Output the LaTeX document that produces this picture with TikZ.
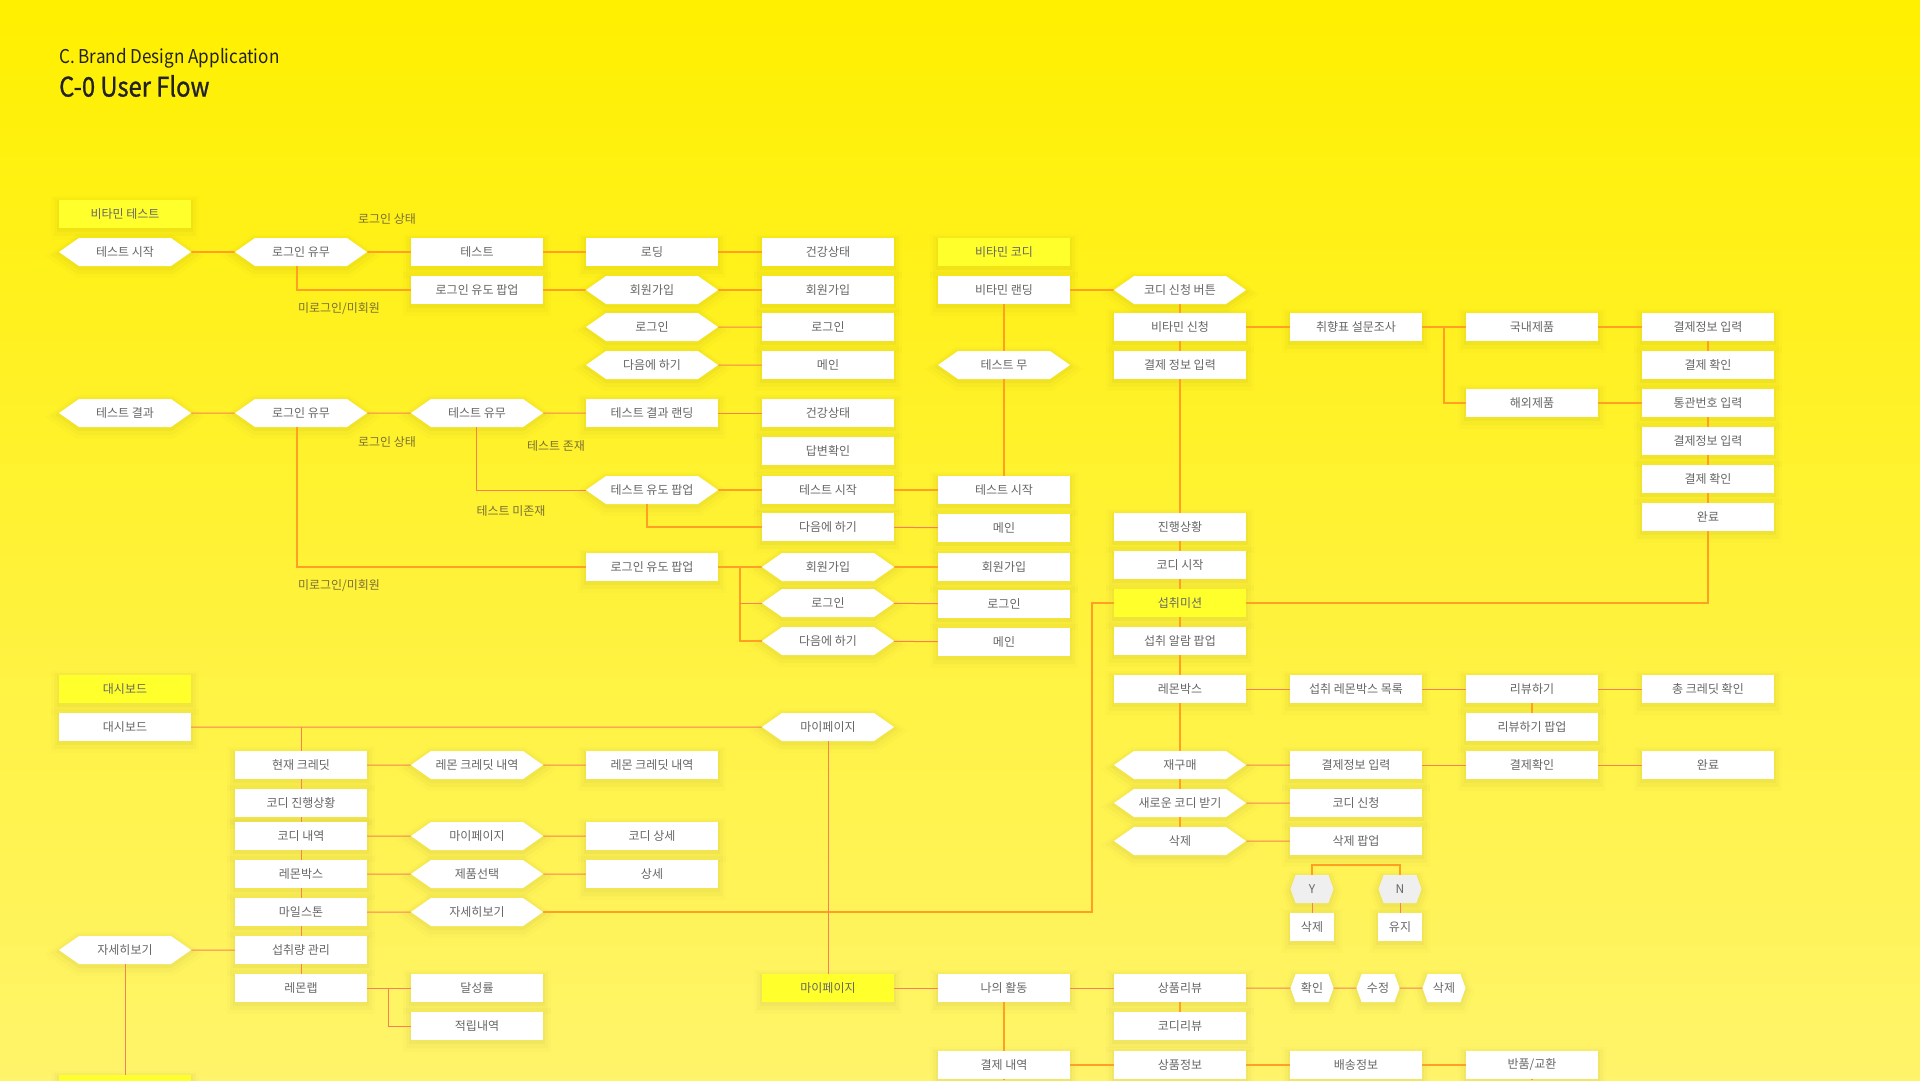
\documentclass[tikz,border=0pt]{standalone}
\usepackage{fontspec}
\setmainfont{Noto Sans CJK KR}
\newfontfamily\ttlfont[FakeBold=1.0]{Noto Sans CJK KR}
\usetikzlibrary{shapes.symbols,shadows}
\definecolor{bgtop}{HTML}{FFF000}
\definecolor{bgbot}{HTML}{FFF46A}
\definecolor{ylw}{HTML}{FFFF2C}
\definecolor{ntext}{HTML}{666666}
\definecolor{labgrey}{RGB}{122,112,52}
\definecolor{ttl}{HTML}{222222}
\definecolor{orw}{RGB}{255,160,36}
\definecolor{crw}{RGB}{248,128,88}
\definecolor{greyhex}{HTML}{EFEFEF}
\newcommand\nfnt{\fontsize{12}{14}\selectfont}
\newcommand\lfnt{\fontsize{12}{14}\selectfont}
\begin{document}
\begin{tikzpicture}[x=1pt,y=-1pt,
  halo/.style={
    general shadow={draw=black, fill=none, line width=16pt, opacity=0.012, shadow yshift=-4pt},
    general shadow={draw=black, fill=none, line width=10pt, opacity=0.018, shadow yshift=-3pt},
    general shadow={draw=black, fill=none, line width=4pt, opacity=0.025, shadow yshift=-2pt}},
  base/.style={inner sep=0pt, minimum height=28pt, text=ntext, font=\nfnt, halo},
  wbox/.style={base, rectangle, fill=white, minimum width=132pt},
  ybx/.style={base, rectangle, fill=ylw, minimum width=132pt},
  hexn/.style={base, signal, signal to=east and west, signal pointer angle=70, fill=white, minimum width=132pt},
  shex/.style={base, signal, signal to=east and west, signal pointer angle=140, fill=white, minimum width=43pt},
  sbox/.style={base, rectangle, fill=white, minimum width=44pt},
  lab/.style={text=labgrey, font=\lfnt, inner sep=0pt},
  ow/.style={draw=orw, line width=1.6pt},
  cw/.style={draw=crw, line width=1pt}]
\useasboundingbox (0,0) rectangle (1920,1080);
\shade[top color=bgtop, bottom color=bgbot] (0,0) rectangle (1920,1080);

% titles
\node[anchor=west, inner sep=0pt, text=ttl, font=\fontsize{19}{22}\selectfont] (t1x) at (59,58) {\scalebox{0.9}[1]{C. Brand Design Application}};
\node[anchor=west, inner sep=0pt, text=ttl, font=\ttlfont\fontsize{27}{30}\selectfont] (t2x) at (59,86) {\scalebox{0.88}[1]{C-0 User Flow}};

% ---------- top section ----------
\node[ybx]  (vt)   at (125,214) {비타민 테스트};
\node[hexn] (ts1)  at (125,252) {테스트 시작};
\node[hexn] (lu1)  at (301,252) {로그인 유무};
\node[wbox] (t1)   at (477,252) {테스트};
\node[wbox] (ld)   at (652,252) {로딩};
\node[wbox] (hs1)  at (828,252) {건강상태};
\node[wbox] (lp1)  at (477,290) {로그인 유도 팝업};
\node[hexn] (sj1)  at (652,290) {회원가입};
\node[wbox] (sj1b) at (828,290) {회원가입};
\node[hexn] (li1)  at (652,327) {로그인};
\node[wbox] (li1b) at (828,327) {로그인};
\node[hexn] (nx1)  at (652,365) {다음에 하기};
\node[wbox] (mn1)  at (828,365) {메인};

\node[hexn] (tr)   at (125,413) {테스트 결과};
\node[hexn] (lu2)  at (301,413) {로그인 유무};
\node[hexn] (tu)   at (477,413) {테스트 유무};
\node[wbox] (trl)  at (652,413) {테스트 결과 랜딩};
\node[wbox] (hs2)  at (828,413) {건강상태};
\node[wbox] (ans)  at (828,451) {답변확인};
\node[hexn] (tp)   at (652,490) {테스트 유도 팝업};
\node[wbox] (ts2)  at (828,490) {테스트 시작};
\node[wbox] (nx2)  at (828,527) {다음에 하기};
\node[wbox] (lp2)  at (652,567) {로그인 유도 팝업};
\node[hexn] (sj2)  at (828,567) {회원가입};
\node[hexn] (li2)  at (828,603) {로그인};
\node[hexn] (nx3)  at (828,641) {다음에 하기};

\node[ybx]  (vc)   at (1004,252) {비타민 코디};
\node[wbox] (vl)   at (1004,290) {비타민 랜딩};
\node[hexn] (tm)   at (1004,365) {테스트 무};
\node[wbox] (ts3)  at (1004,490) {테스트 시작};
\node[wbox] (mn2)  at (1004,528) {메인};
\node[wbox] (sj2b) at (1004,567) {회원가입};
\node[wbox] (li2b) at (1004,604) {로그인};
\node[wbox] (mn3)  at (1004,642) {메인};

\node[hexn] (cb)   at (1180,290) {코디 신청 버튼};
\node[wbox] (vs)   at (1180,327) {비타민 신청};
\node[wbox] (pi1)  at (1180,365) {결제 정보 입력};
\node[wbox] (pr)   at (1180,527) {진행상황};
\node[wbox] (cs)   at (1180,565) {코디 시작};
\node[ybx]  (sm)   at (1180,603) {섭취미션};
\node[wbox] (sa)   at (1180,641) {섭취 알람 팝업};
\node[wbox] (lb1)  at (1180,689) {레몬박스};
\node[hexn] (rb)   at (1180,765) {재구매};
\node[hexn] (nc)   at (1180,803) {새로운 코디 받기};
\node[hexn] (dl)   at (1180,841) {삭제};

\node[wbox] (sv)   at (1356,327) {취향표 설문조사};
\node[wbox] (dom)  at (1532,327) {국내제품};
\node[wbox] (ovs)  at (1532,403) {해외제품};
\node[wbox] (pa1)  at (1708,327) {결제정보 입력};
\node[wbox] (pc1)  at (1708,365) {결제 확인};
\node[wbox] (cc)   at (1708,403) {통관번호 입력};
\node[wbox] (pa2)  at (1708,441) {결제정보 입력};
\node[wbox] (pc2)  at (1708,479) {결제 확인};
\node[wbox] (dn1)  at (1708,517) {완료};

\node[wbox] (lbl)  at (1356,689) {섭취 레몬박스 목록};
\node[wbox] (rv)   at (1532,689) {리뷰하기};
\node[wbox] (tcr)  at (1708,689) {총 크레딧 확인};
\node[wbox] (rvp)  at (1532,727) {리뷰하기 팝업};
\node[wbox] (pa3)  at (1356,765) {결제정보 입력};
\node[wbox] (pc3)  at (1532,765) {결제확인};
\node[wbox] (dn2)  at (1708,765) {완료};
\node[wbox] (ca)   at (1356,803) {코디 신청};
\node[wbox] (dp)   at (1356,841) {삭제 팝업};
\node[shex, fill=greyhex] (yy) at (1312,889) {Y};
\node[shex, fill=greyhex] (nn) at (1400,889) {N};
\node[sbox] (dl2)  at (1312,927) {삭제};
\node[sbox] (kp)   at (1400,927) {유지};

% ---------- lower section ----------
\node[ybx]  (db1)  at (125,689) {대시보드};
\node[wbox] (db2)  at (125,727) {대시보드};
\node[hexn] (mp1)  at (828,727) {마이페이지};
\node[wbox] (cr)   at (301,765) {현재 크레딧};
\node[hexn] (lch)  at (477,765) {레몬 크레딧 내역};
\node[wbox] (lcb)  at (652,765) {레몬 크레딧 내역};
\node[wbox] (cpr)  at (301,803) {코디 진행상황};
\node[wbox] (chist) at (301,836) {코디 내역};
\node[hexn] (mp2)  at (477,836) {마이페이지};
\node[wbox] (cdet) at (652,836) {코디 상세};
\node[wbox] (lb2)  at (301,874) {레몬박스};
\node[hexn] (ps)   at (477,874) {제품선택};
\node[wbox] (det)  at (652,874) {상세};
\node[wbox] (ms)   at (301,912) {마일스톤};
\node[hexn] (js3)  at (477,912) {자세히보기};
\node[wbox] (im)   at (301,950) {섭취량 관리};
\node[hexn] (js1)  at (125,950) {자세히보기};
\node[wbox] (ll)   at (301,988) {레몬랩};
\node[wbox] (ach)  at (477,988) {달성률};
\node[wbox] (acc)  at (477,1026) {적립내역};
\node[ybx]  (mp3)  at (828,988) {마이페이지};
\node[wbox] (ma)   at (1004,988) {나의 활동};
\node[wbox] (prv)  at (1180,988) {상품리뷰};
\node[shex] (ok)   at (1312,988) {확인};
\node[shex] (ed)   at (1378,988) {수정};
\node[shex] (de)   at (1444,988) {삭제};
\node[wbox] (crv)  at (1180,1026) {코디리뷰};
\node[wbox] (ph)   at (1004,1065) {결제 내역};
\node[wbox] (pin)  at (1180,1065) {상품정보};
\node[wbox] (si)   at (1356,1065) {배송정보};
\node[wbox] (rx)   at (1532,1065) {반품/교환};
\node[ybx]  (bot)  at (125,1089) {};

% labels
\node[lab] (la1) at (387,219) {로그인 상태};
\node[lab] (la2) at (339,309) {미로그인/미회원};
\node[lab] (la3) at (387,442) {로그인 상태};
\node[lab] (la4) at (556,446) {테스트 존재};
\node[lab] (la5) at (511,511) {테스트 미존재};
\node[lab] (la6) at (339,586) {미로그인/미회원};

% helper coordinates
\coordinate (br1) at (740,567);
\coordinate (br2) at (1444,327);
\coordinate (k1)  at (1092,912);
\coordinate (br3) at (301,727);
\coordinate (br4) at (388,988);
\coordinate (ybar) at (1356,865);
\coordinate (e1) at (1004,1080);
\coordinate (e2) at (1532,1080);

% ---------- connectors: top ----------
\draw[ow] (ts1) -- (lu1);
\draw[ow] (lu1) -- (t1);
\draw[ow] (t1) -- (ld);
\draw[ow] (ld) -- (hs1);
\draw[ow] ([xshift=-4pt]lu1.south) |- (lp1.west);
\draw[ow] (lp1) -- (sj1);
\draw[ow] (sj1) -- (sj1b);
\draw[cw] (li1) -- (li1b);
\draw[cw] (nx1) -- (mn1);
\draw[cw] (tr) -- (lu2);
\draw[cw] (lu2) -- (tu);
\draw[cw] (tu) -- (trl);
\draw[cw] (trl) -- (hs2);
\draw[cw] ([xshift=-1pt]tu.south) |- (tp.west);
\draw[ow] (tp) -- (ts2);
\draw[ow] (ts2) -- (ts3);
\draw[ow] ([xshift=-5pt]tp.south) |- (nx2.west);
\draw[cw] (nx2) -- (mn2);
\draw[ow] ([xshift=-4pt]lu2.south) |- (lp2.west);
\draw[ow] (lp2) -- (sj2);
\draw[ow] (br1) |- (nx3.west);
\draw[cw] (br1 |- li2) -- (li2.west);
\draw[ow] (sj2) -- (sj2b);
\draw[cw] (li2) -- (li2b);
\draw[cw] (nx3) -- (mn3);

\draw[ow] (vl) -- (cb);
\draw[ow] (vl.south) -- (tm.north);
\draw[ow] (tm.south) -- (ts3.north);
\draw[ow] (cb.south) -- (vs.north);
\draw[ow] (vs.south) -- (pi1.north);
\draw[ow] (pi1.south) -- (pr.north);
\draw[ow] (pr.south) -- (cs.north);
\draw[ow] (cs.south) -- (sm.north);
\draw[ow] (sm.south) -- (sa.north);
\draw[ow] (sa.south) -- (lb1.north);
\draw[ow] (lb1.south) -- (rb.north);
\draw[ow] (rb.south) -- (nc.north);
\draw[ow] (nc.south) -- (dl.north);
\draw[ow] (vs) -- (sv);
\draw[ow] (sv) -- (dom);
\draw[ow] (br2) |- (ovs.west);
\draw[ow] (dom) -- (pa1);
\draw[ow] (ovs) -- (cc);
\draw[ow] (pa1.south) -- (pc1.north);
\draw[ow] (cc.south) -- (pa2.north);
\draw[ow] (pa2.south) -- (pc2.north);
\draw[ow] (pc2.south) -- (dn1.north);
\draw[ow] (dn1.south) |- (sm.east);
\draw[ow] (sm.west) -| (k1) -- (js3.east);

% ---------- connectors: lower ----------
\draw[cw] (db2) -- (mp1);
\draw[cw] (br3) -- (cr.north);
\draw[cw] (cr.south) -- (cpr.north);
\draw[cw] (cpr.south) -- (chist.north);
\draw[cw] (chist.south) -- (lb2.north);
\draw[cw] (lb2.south) -- (ms.north);
\draw[cw] (ms.south) -- (im.north);
\draw[cw] (im.south) -- (ll.north);
\draw[cw] (cr) -- (lch);
\draw[cw] (lch) -- (lcb);
\draw[cw] (chist) -- (mp2);
\draw[cw] (mp2) -- (cdet);
\draw[cw] (lb2) -- (ps);
\draw[cw] (ps) -- (det);
\draw[cw] (ms) -- (js3);
\draw[cw] (im) -- (js1);
\draw[cw] (js1.south) -- (bot.north);
\draw[cw] (ll) -- (ach);
\draw[cw] (br4) |- (acc.west);
\draw[cw] (mp1.south) -- (mp3.north);
\draw[cw] (mp3) -- (ma);
\draw[cw] (ma) -- (prv);
\draw[cw] (prv) -- (ok);
\draw[cw] (ok) -- (ed);
\draw[cw] (ed) -- (de);
\draw[ow] (ma.south) -- (ph.north);
\draw[ow] (ph.south) -- (e1);
\draw[ow] (prv.south) -- (crv.north);
\draw[ow] (ph) -- (pin);
\draw[ow] (pin) -- (si);
\draw[ow] (si) -- (rx);
\draw[ow] (rx.south) -- (e2);
\draw[cw] (lb1) -- (lbl);
\draw[cw] (lbl) -- (rv);
\draw[cw] (rv) -- (tcr);
\draw[ow] (rv.south) -- (rvp.north);
\draw[cw] (rb) -- (pa3);
\draw[cw] (pa3) -- (pc3);
\draw[cw] (pc3) -- (dn2);
\draw[cw] (nc) -- (ca);
\draw[cw] (dl) -- (dp);
\draw[ow] (yy.north) |- (ybar) -| (nn.north);
\draw[cw] (yy.south) -- (dl2.north);
\draw[cw] (nn.south) -- (kp.north);
\end{tikzpicture}
\end{document}
